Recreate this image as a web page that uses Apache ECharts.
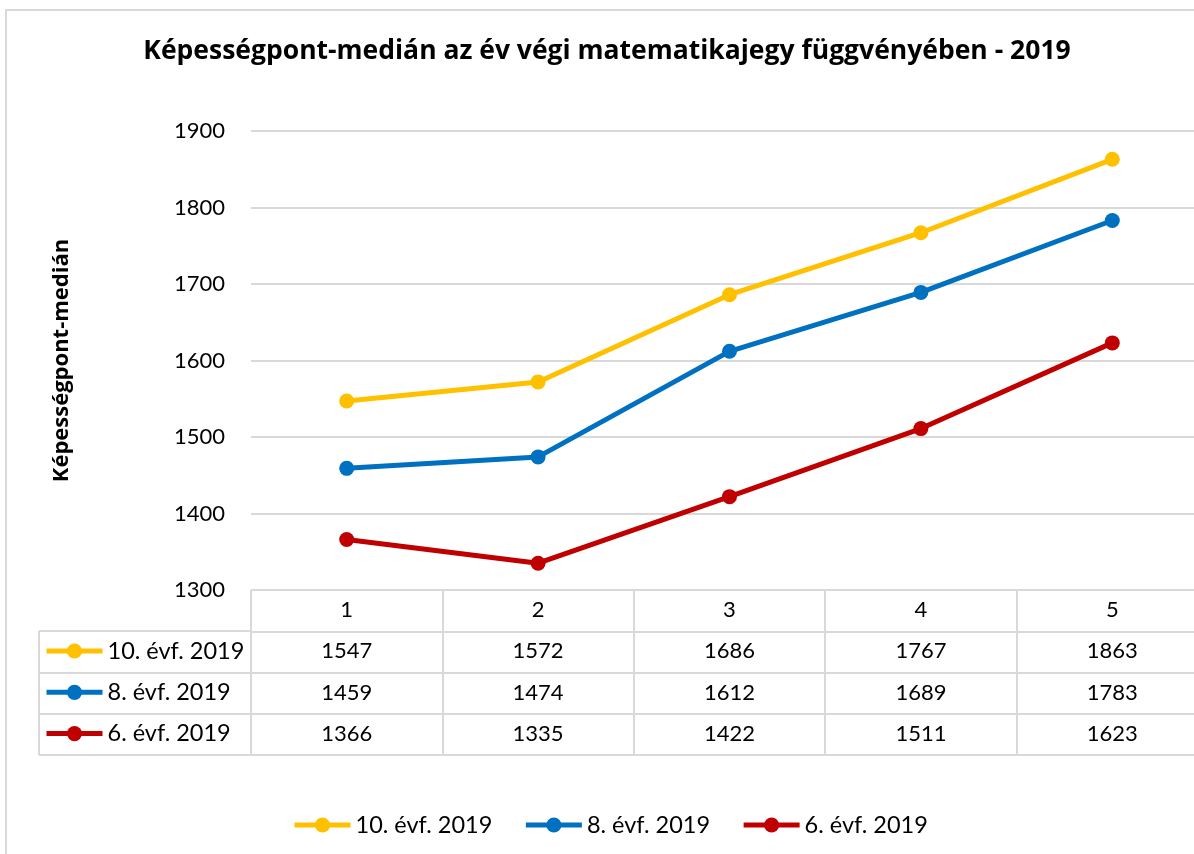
<!DOCTYPE html>
<html>
<head>
<meta charset="utf-8">
<script src="https://cdn.jsdelivr.net/npm/echarts@6/dist/echarts.min.js"></script>
<style>html,body{margin:0;padding:0;background:#fff;}#c{width:1194px;height:854px;}</style>
</head>
<body>
<div id="c"></div>
<script>
const categories = ['1', '2', '3', '4', '5'];
const seriesNames = ['10. évf. 2019', '8. évf. 2019', '6. évf. 2019'];
const grade10 = [1547, 1572, 1686, 1767, 1863];
const grade8 = [1459, 1474, 1612, 1689, 1783];
const grade6 = [1366, 1335, 1422, 1511, 1623];
const yTicks = { min: 1300, max: 1900, interval: 100 };
const colors = ['#FFC000', '#0070C0', '#C00000'];
const seriesData = [grade10, grade8, grade6];

const FONT = 'Lato, "Open Sans", sans-serif';
const TITLE_FONT = '"Open Sans", Lato, sans-serif';
const GRID_LINE = '#d9d9d9';
const ROW = 41.3;

const chart = echarts.init(document.getElementById('c'), null, { renderer: 'canvas' });

const xAxes = [{
  type: 'category', gridIndex: 0, data: categories, position: 'bottom',
  boundaryGap: true,
  axisLine: { show: false },
  axisTick: { show: true, interval: 0, length: ROW, lineStyle: { color: GRID_LINE, width: 2 } },
  axisLabel: { interval: 0, margin: 9, fontFamily: FONT, fontSize: 22, color: '#000' }
}];
seriesData.forEach((arr, i) => {
  xAxes.push({
    type: 'category', gridIndex: 0, data: categories, position: 'bottom',
    offset: ROW * (i + 1), boundaryGap: true,
    axisLine: { show: true, lineStyle: { color: GRID_LINE, width: 2 } },
    axisTick: { show: true, interval: 0, length: ROW, lineStyle: { color: GRID_LINE, width: 2 } },
    axisLabel: { interval: 0, margin: 9, fontFamily: FONT, fontSize: 22, color: '#000',
      formatter: (v, idx) => String(arr[idx]) }
  });
});
xAxes.push({
  type: 'category', gridIndex: 0, data: categories, position: 'bottom',
  offset: ROW * 4, boundaryGap: true,
  axisLine: { show: true, lineStyle: { color: GRID_LINE, width: 2 } },
  axisTick: { show: false }, axisLabel: { show: false }
});

const tableTop = 590, tableLeft = 39, gridLeft = 251;
const decor = [
  { type: 'rect', shape: { x: 6, y: 10, width: 1400, height: 1000 }, style: { fill: 'none', stroke: GRID_LINE, lineWidth: 2 }, z: 0 }
];
for (let r = 1; r <= 4; r++) {
  const y = Math.round(tableTop + ROW * r);
  decor.push({ type: 'line', shape: { x1: tableLeft, y1: y, x2: gridLeft, y2: y }, style: { stroke: GRID_LINE, lineWidth: 2 }, z: 0 });
}
decor.push({ type: 'line', shape: { x1: tableLeft, y1: Math.round(tableTop + ROW), x2: tableLeft, y2: Math.round(tableTop + ROW * 4) }, style: { stroke: GRID_LINE, lineWidth: 2 }, z: 0 });

const legendText = { fontFamily: FONT, fontSize: 23.5, color: '#000', lineHeight: 24 };

const option = {
  backgroundColor: '#fff',
  animation: false,
  color: colors,
  title: {
    text: 'Képességpont-medián az év végi matematikajegy függvényében - 2019',
    left: 607, top: 38, textAlign: 'center', padding: 0,
    textStyle: { fontFamily: TITLE_FONT, fontSize: 26.5, fontWeight: 'bold', color: '#000' }
  },
  grid: { left: gridLeft, top: 131, width: 957, height: 459, outerBoundsMode: 'none', containLabel: false },
  legend: [{
    data: seriesNames, orient: 'vertical', left: 44, top: 639, padding: 0,
    itemWidth: 56, itemHeight: 19, itemGap: ROW - 24, itemTextGap: 4,
    lineStyle: { width: 5 },
    textStyle: legendText,
    selectedMode: false
  }, {
    data: seriesNames, orient: 'horizontal', left: 292, top: 813, padding: 0,
    itemWidth: 56, itemHeight: 19, itemGap: 31, itemTextGap: 4,
    lineStyle: { width: 5 },
    textStyle: legendText,
    selectedMode: false
  }],
  xAxis: xAxes,
  yAxis: {
    type: 'value', min: yTicks.min, max: yTicks.max, interval: yTicks.interval,
    name: 'Képességpont-medián', nameLocation: 'middle', nameGap: 178,
    nameTextStyle: { fontFamily: TITLE_FONT, fontSize: 22, fontWeight: 'bold', color: '#000' },
    axisLine: { show: false }, axisTick: { show: false },
    axisLabel: { margin: 26, fontFamily: FONT, fontSize: 22, color: '#000', formatter: v => String(v) },
    splitLine: { lineStyle: { color: GRID_LINE, width: 2 } }
  },
  graphic: decor,
  series: seriesData.map((arr, i) => ({
    name: seriesNames[i], type: 'line', xAxisIndex: 0, yAxisIndex: 0,
    data: arr, symbol: 'circle', symbolSize: 15, showSymbol: true,
    lineStyle: { width: 5, color: colors[i] },
    itemStyle: { color: colors[i] }, z: 3 - i
  }))
};
chart.setOption(option);
</script>
</body>
</html>
